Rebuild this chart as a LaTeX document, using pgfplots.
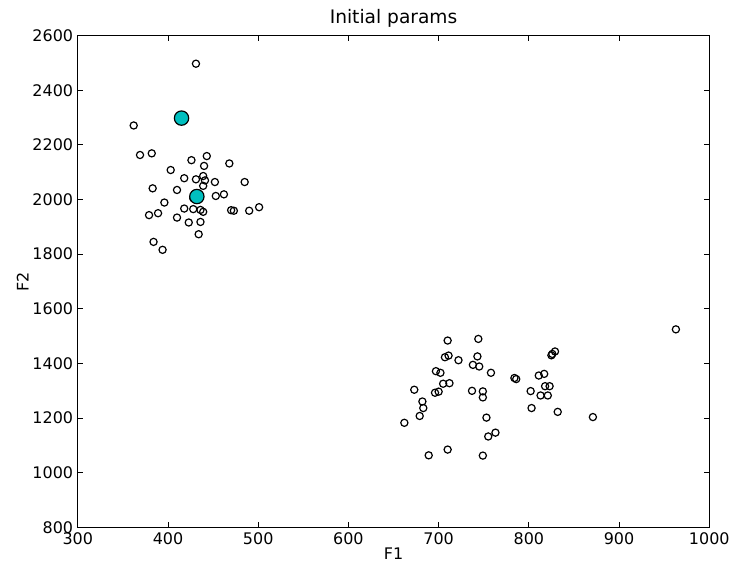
\documentclass[border=0pt]{standalone}
\usepackage{pgfplots}
\pgfplotsset{compat=1.18}
\usepackage{fontspec}
\setmainfont{DejaVu Sans}
\definecolor{mplcyan}{rgb}{0,0.75,0.75}

\begin{document}
\begin{tikzpicture}[x=1pt,y=1pt]
  \begin{axis}[
      name=ax,
      scale only axis,
      width=475pt, height=370pt,
      xmin=300, xmax=1000,
      ymin=800, ymax=2600,
      xtick={300,400,...,1000},
      ytick={800,1000,...,2600},
      tick align=inside,
      major tick length=4pt,
      tick style={black, line width=0.6pt},
      axis line style={black, line width=0.8pt},
      xticklabel style={font=\fontsize{12}{13}\selectfont},
      yticklabel style={font=\fontsize{12}{13}\selectfont},
      /pgf/number format/assume math mode=true,
      /pgf/number format/1000 sep={},
      xlabel={F1}, ylabel={F2},
      xlabel style={font=\fontsize{12}{13}\selectfont, yshift=4pt},
      ylabel style={font=\fontsize{12}{13}\selectfont, yshift=-4pt},
      title={Initial params},
      title style={font=\fontsize{14}{15}\selectfont, yshift=-3pt},
      clip=false,
    ]
    % data points
    \addplot[only marks, mark=o, mark size=2.7pt,
             mark options={draw=black, fill=white, line width=0.9pt}]
    coordinates {
      (431,2497) (362,2271)
      (369,2163) (382,2169) (426,2144) (443,2159) (440,2123) (468,2132)
      (403,2108) (418,2078) (431,2074) (439,2086) (441,2070) (452,2064)
      (485,2064) (383,2041) (410,2035) (439,2050) (453,2013) (462,2019)
      (396,1989) (428,2005) (379,1943) (389,1950) (418,1967) (428,1965)
      (436,1962) (439,1955) (470,1961) (473,1959) (490,1959) (501,1972)
      (410,1934) (423,1916) (436,1918) (434,1873) (384,1845) (394,1816)
      (710,1484) (744,1490) (707,1423) (711,1429) (722,1412) (738,1395)
      (743,1426) (745,1389) (758,1366) (784,1347) (786,1343) (697,1372)
      (702,1366) (673,1304) (705,1326) (712,1328) (696,1293) (700,1297)
      (737,1300) (749,1298) (749,1276) (682,1261) (683,1237) (679,1208)
      (662,1183) (753,1202) (763,1147) (755,1133) (710,1085) (689,1064)
      (749,1063)
      (826,1435) (829,1444) (825,1430) (811,1356) (817,1362) (818,1317)
      (823,1317) (802,1299) (813,1283) (821,1283) (803,1237) (832,1223)
      (871,1204) (963,1525)
    };
    % initial centres
    \addplot[only marks, mark=*, mark size=5.4pt,
             mark options={draw=black, fill=mplcyan, line width=0.9pt}]
    coordinates {
      (415,2298) (432,2011)
    };
  \end{axis}
  \path (ax.south west) ++(-58.5pt,-29.25pt) coordinate (bl);
  \useasboundingbox (bl) rectangle ++(550.5pt,426pt);
\end{tikzpicture}
\end{document}
